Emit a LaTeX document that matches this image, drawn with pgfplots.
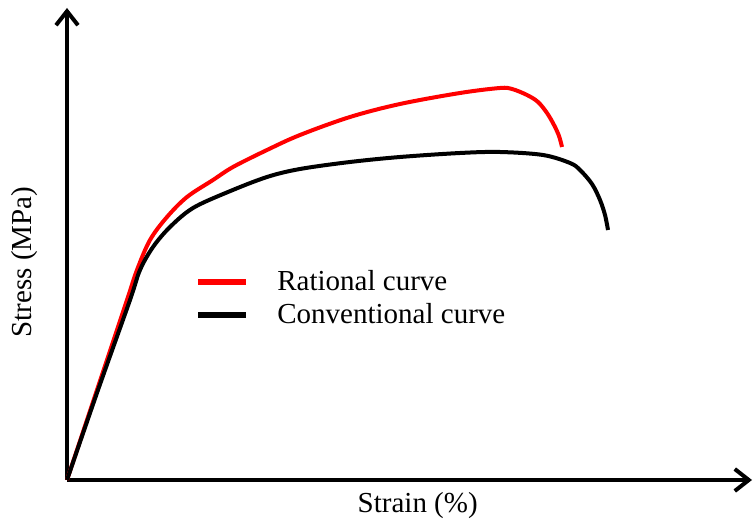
\documentclass[border=0pt]{standalone}
\usepackage{fontspec}
\setmainfont{Liberation Serif}
\usepackage{pgfplots}
\pgfplotsset{compat=1.18}
\usetikzlibrary{arrows.meta}
\newcommand{\lblfont}{\fontsize{14.5}{17}\selectfont}
\begin{document}
\begin{tikzpicture}
\path[use as bounding box] (-33.5pt,-22pt) rectangle (343pt,240pt);
\begin{axis}[
  at={(0pt,0pt)}, anchor=origin,
  x=0.5pt, y=0.5pt,
  xmin=0, xmax=685, ymin=0, ymax=472,
  axis lines=left,
  axis line style={line width=2pt, -{Straight Barb[length=7pt,width=11pt]}},
  xtick=\empty, ytick=\empty,
  clip=false,
  xlabel={Strain (\%)}, ylabel={Stress (MPa)},
  x label style={at={(axis description cs:0.512,-0.055)}, anchor=center, font=\lblfont},
  y label style={at={(axis description cs:-0.0613,0.462)}, anchor=center, rotate=0, font=\lblfont},
  legend style={draw=none, fill=none, at={(axis cs:128,214)}, anchor=north west,
    inner sep=0pt, font=\lblfont, row sep=1pt,
    nodes={inner sep=2pt}},
  legend cell align=left,
  legend image code/.code={\draw[#1, line width=3pt] (0pt,0pt) -- (24pt,0pt);},
  legend columns=1,
]
\addplot[red, line width=2pt, smooth, tension=0.55] coordinates {
(0,0) (30,90) (60,180) (70,210) (83,240) (100,263) (120,283) (146,300) (166,313)
(200,330) (233,345) (283,363) (333,376) (393,387) (433,392) (445,391) (460,385)
(471,378) (480,367) (487,355) (492,344) (495,333)};
\addlegendentry{\hspace{12pt}Rational curve}
\addplot[black, line width=2pt, smooth, tension=0.55] coordinates {
(0,0) (31,90) (63,180) (73,210) (86,233) (103,253) (126,272) (161,288) (200,303)
(233,311) (283,318) (333,323) (393,327) (433,328) (476,325) (503,317) (513,310)
(525,296) (533,280) (538,265) (541,250)};
\addlegendentry{\hspace{12pt}Conventional curve}
\end{axis}
\end{tikzpicture}
\end{document}
